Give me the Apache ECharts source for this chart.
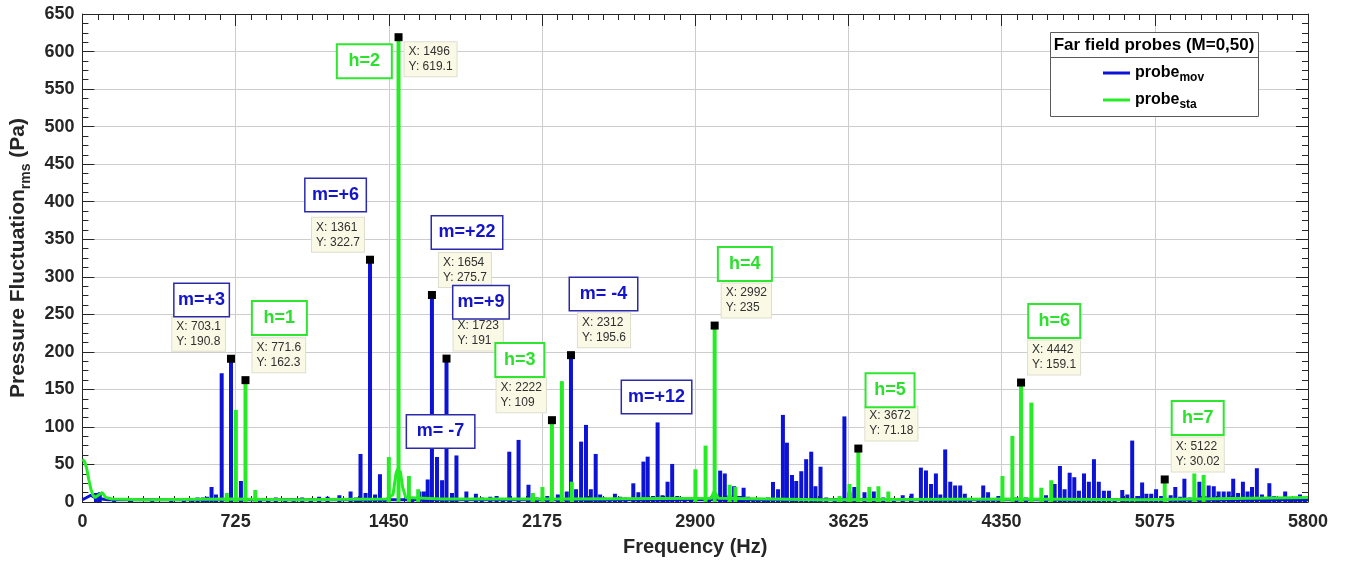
<!DOCTYPE html>
<html>
<head>
<meta charset="utf-8">
<title>Far field probes</title>
<script src="https://cdn.jsdelivr.net/npm/echarts@6/dist/echarts.min.js"></script>
<style>
html, body { margin: 0; padding: 0; background: #fff; }
#main { width: 1347px; height: 565px; }
</style>
</head>
<body>
<div id="main"></div>
<script>
// spectrum of the moving probe: [frequency Hz, amplitude Pa]
var movPeaks = [
    [64, 12], [82, 13], [150, 4], [230, 3], [330, 3], [420, 4], [480, 5], [520, 5], [545, 6], [570, 6],
    [590, 7], [611, 20], [632, 10], [659, 171.6], [703.1, 190.8], [750, 28], [840, 4], [880, 5], [915, 6],
    [960, 5], [1000, 4], [1040, 6], [1080, 5], [1120, 7], [1160, 7], [1216, 9], [1269, 14], [1295, 6],
    [1316, 64], [1340, 12], [1361, 322.7], [1385, 10], [1408, 37], [1430, 5], [1560, 5], [1595, 14],
    [1616, 14], [1634, 30], [1654, 275.7], [1678, 60], [1702, 29], [1723, 191], [1749, 12], [1770, 62],
    [1817, 14], [1862, 11], [1890, 6], [1930, 7], [1960, 8], [1990, 5], [2020, 67], [2064, 82.7],
    [2111, 23], [2150, 6], [2200, 8], [2250, 10], [2292, 14], [2312, 195.6], [2336, 17], [2360, 80.4],
    [2383, 102.7], [2406, 17], [2429, 64], [2450, 10], [2470, 6], [2495, 5], [2520, 11], [2545, 7],
    [2570, 6], [2607, 24.9], [2631, 13], [2655, 53.8], [2675, 60.4], [2700, 8], [2722, 106], [2745, 9],
    [2769, 27], [2791, 50.7], [2815, 8], [2850, 5], [2880, 6], [2960, 5], [3018, 41.8], [3040, 38],
    [3062, 9], [3084, 21], [3107, 8], [3129, 19], [3150, 7], [3175, 5], [3200, 5], [3225, 4], [3245, 6],
    [3268, 26.7], [3292, 17], [3315, 116], [3334, 79], [3358, 36], [3378, 28], [3402, 41], [3425, 57],
    [3449, 67], [3469, 21], [3493, 47], [3520, 6], [3560, 5], [3606, 114], [3630, 13], [3653, 20],
    [3701, 13], [3745, 14], [3790, 6], [3840, 5], [3882, 9], [3924, 11], [3968, 45.8], [3992, 42],
    [4016, 24], [4039, 38], [4060, 10], [4083, 70], [4107, 27], [4130, 22], [4154, 22], [4176, 11],
    [4200, 5], [4240, 4], [4263, 22], [4286, 13], [4310, 5], [4335, 8], [4420, 6], [4465, 6], [4560, 9],
    [4601, 24], [4626, 48], [4648, 17], [4672, 39], [4694, 33], [4716, 15], [4740, 38], [4763, 27],
    [4787, 57], [4810, 27], [4834, 15], [4858, 15], [4885, 5], [4921, 16], [4945, 10], [4968, 81.8],
    [4992, 8], [5015, 26], [5035, 11], [5058, 11], [5081, 17], [5105, 8], [5150, 9], [5172, 20],
    [5195, 7], [5215, 31], [5240, 6], [5286, 27], [5310, 8], [5330, 22], [5354, 21], [5377, 14],
    [5401, 14], [5425, 14], [5446, 31], [5469, 12], [5492, 27], [5514, 14], [5535, 20], [5558, 45],
    [5582, 10], [5600, 6], [5617, 25], [5640, 8], [5665, 6], [5692, 14], [5715, 5], [5740, 6],
    [5762, 10], [5785, 5]
];
var movFloor = [[0, 3], [40, 9], [64, 5], [120, 3], [5800, 3]];

// spectrum of the stationary probe
var staPeaks = [
    [683, 12], [726, 122.7], [771.6, 162.3], [818, 16], [1450, 60], [1496, 619.1], [1545, 34.7],
    [1589, 17], [2132, 12], [2177, 20], [2222, 109], [2269, 161], [2316, 27], [2901, 43.6],
    [2949, 75.1], [2992, 235], [3063, 23], [3090, 20], [3583, 8], [3630, 24], [3672, 71.18],
    [3724, 20], [3767, 21], [3814, 14], [4354, 34.7], [4401, 88], [4442, 159.1], [4491, 132.4],
    [4538, 19], [4585, 29], [5122, 30.02], [5262, 38], [5306, 36]
];
var staFloor = [
    [0, 57], [10, 54], [20, 45], [30, 30], [40, 17], [50, 9], [60, 6], [75, 9], [94, 12.5], [110, 6],
    [140, 4], [300, 3], [700, 4], [1000, 3], [1440, 4], [1470, 10], [1484, 38], [1492, 44], [1505, 40],
    [1515, 20], [1530, 6], [1700, 4], [2300, 4], [2975, 5], [2990, 14], [3010, 5], [3500, 3],
    [4440, 4], [5000, 3], [5800, 6]
];

// data cursors
var tipFreq = [703.1, 771.6, 1361, 1496, 1654, 1723, 2222, 2312, 2992, 3672, 4442, 5122];
var tipAmp = [190.8, 162.3, 322.7, 619.1, 275.7, 191, 109, 195.6, 235, 71.18, 159.1, 30.02];
var tipSide = ['NW', 'NE', 'NW', 'SE', 'NE', 'NE', 'NW', 'NE', 'NE', 'NE', 'NE', 'NE'];

// mode / harmonic text boxes
var noteText = ['m=+3', 'h=1', 'm=+6', 'h=2', 'm=+22', 'm=+9', 'm= -7', 'h=3', 'm= -4', 'm=+12', 'h=4', 'h=5', 'h=6', 'h=7'];
var noteFreq = [564, 932, 1198, 1334, 1820, 1886, 1695, 2070, 2466, 2717, 3135, 3822, 4599, 5278];
var noteAmp = [269, 245, 409, 587, 359, 266, 94, 189, 277, 140, 317, 149, 241, 112];
var noteWidth = [57, 56, 63, 56, 73, 58, 70, 50, 70, 72, 55, 50, 53, 53];

var BLUE = '#0c12d6';
var GREEN = '#26ec26';
var FONT = '"Liberation Sans", Arial, sans-serif';
var AXIS = '#262626';

var myChart = echarts.init(document.getElementById('main'));

var tipPlace = {
    NE: { align: 'left', verticalAlign: 'bottom', offset: [7, -8] },
    NW: { align: 'right', verticalAlign: 'bottom', offset: [-6, -8] },
    SE: { align: 'left', verticalAlign: 'top', offset: [6, 5] }
};

var tipData = tipFreq.map(function (f, i) {
    var p = tipPlace[tipSide[i]];
    return {
        value: [f, tipAmp[i]],
        label: { align: p.align, verticalAlign: p.verticalAlign, offset: p.offset }
    };
});

var noteData = noteText.map(function (t, i) {
    var isM = t.charAt(0) === 'm';
    return {
        value: [noteFreq[i], noteAmp[i]],
        label: {
            formatter: t,
            width: noteWidth[i] - 3,
            color: isM ? '#1414c8' : '#2ee02e',
            borderColor: isM ? '#2a2aaa' : '#2ee62e',
            borderWidth: isM ? 1.5 : 2
        }
    };
});

function axisTicks() {
    return { show: true, inside: true, length: 12, lineStyle: { color: AXIS, width: 1 } };
}

option = {
    backgroundColor: '#fff',
    animation: false,
    grid: { left: 79.5, right: 39, top: 14, bottom: 63 },
    legend: {
        orient: 'vertical',
        left: 1098,
        top: 60,
        itemWidth: 27,
        itemHeight: 3,
        itemGap: 8,
        icon: 'rect',
        z: 20,
        data: ['probe_mov', 'probe_sta'],
        formatter: function (name) {
            return '{a|probe}{s|' + name.split('_')[1] + '}';
        },
        textStyle: {
            rich: {
                a: { fontFamily: FONT, fontSize: 16, fontWeight: 'bold', color: '#000', lineHeight: 22 },
                s: { fontFamily: FONT, fontSize: 12, fontWeight: 'bold', color: '#000', lineHeight: 22,
                     verticalAlign: 'bottom', padding: [6, 0, 0, 0] }
            }
        }
    },
    graphic: [
        { type: 'rect', z: 10, shape: { x: 1050.5, y: 32.5, width: 208, height: 84 },
          style: { fill: '#fff', stroke: '#5a5a5a', lineWidth: 1 } },
        { type: 'line', z: 11, shape: { x1: 1050.5, y1: 57.5, x2: 1258.5, y2: 57.5 },
          style: { stroke: '#5a5a5a', lineWidth: 1 } },
        { type: 'text', z: 11, x: 1154, y: 45,
          style: { text: 'Far field probes (M=0,50)', fontFamily: FONT, fontSize: 17, fontWeight: 'bold',
                   fill: '#000', align: 'center', verticalAlign: 'middle' } }
    ],
    xAxis: [{
        type: 'value', min: 0, max: 5800, interval: 725, position: 'bottom',
        name: 'Frequency (Hz)', nameLocation: 'middle', nameGap: 35,
        nameTextStyle: { fontFamily: FONT, fontSize: 20, fontWeight: 'bold', color: AXIS },
        axisLine: { show: true, onZero: false, lineStyle: { color: AXIS, width: 1 } },
        axisTick: axisTicks(),
        minorTick: { show: true, splitNumber: 10, length: 6, lineStyle: { color: AXIS } },
        splitLine: { show: true, lineStyle: { color: '#cdcdcd', width: 1 } },
        axisLabel: { fontFamily: FONT, fontSize: 18, fontWeight: 'bold', color: AXIS, margin: 11,
                     formatter: function (v) { return String(v); } }
    }, {
        type: 'value', min: 0, max: 5800, interval: 725, position: 'top',
        axisLine: { show: true, onZero: false, lineStyle: { color: AXIS, width: 1 } },
        axisTick: axisTicks(),
        minorTick: { show: true, splitNumber: 10, length: 6, lineStyle: { color: AXIS } },
        splitLine: { show: false },
        axisLabel: { show: false }
    }],
    yAxis: [{
        type: 'value', min: 0, max: 650, interval: 50, position: 'left',
        name: '{a|Pressure Fluctuation}{s|rms}{a| (Pa)}',
        nameLocation: 'middle', nameRotate: 90, nameGap: 45,
        nameTextStyle: {
            rich: {
                a: { fontFamily: FONT, fontSize: 21, fontWeight: 'bold', color: AXIS, lineHeight: 30 },
                s: { fontFamily: FONT, fontSize: 14, fontWeight: 'bold', color: AXIS, lineHeight: 30, verticalAlign: 'bottom' }
            }
        },
        axisLine: { show: true, onZero: false, lineStyle: { color: AXIS, width: 1 } },
        axisTick: axisTicks(),
        minorTick: { show: true, splitNumber: 4, length: 6, lineStyle: { color: AXIS } },
        splitLine: { show: true, lineStyle: { color: '#cdcdcd', width: 1 } },
        axisLabel: { fontFamily: FONT, fontSize: 18, fontWeight: 'bold', color: AXIS, margin: 8 }
    }, {
        type: 'value', min: 0, max: 650, interval: 50, position: 'right',
        axisLine: { show: true, onZero: false, lineStyle: { color: AXIS, width: 1 } },
        axisTick: axisTicks(),
        minorTick: { show: true, splitNumber: 4, length: 6, lineStyle: { color: AXIS } },
        splitLine: { show: false },
        axisLabel: { show: false }
    }],
    series: [{
        name: 'probe_mov', type: 'bar', data: movPeaks,
        barWidth: 4, barGap: '-100%', z: 2, silent: true,
        itemStyle: { color: BLUE }
    }, {
        name: 'probe_mov', type: 'line', data: movFloor, symbol: 'none', z: 2, silent: true,
        lineStyle: { color: BLUE, width: 3 }, itemStyle: { color: BLUE }
    }, {
        name: 'probe_sta', type: 'bar', data: staPeaks,
        barWidth: 4, barGap: '-100%', z: 3, silent: true,
        itemStyle: { color: GREEN }
    }, {
        name: 'probe_sta', type: 'line', data: staFloor, symbol: 'none', z: 3, silent: true,
        lineStyle: { color: GREEN, width: 3 }, itemStyle: { color: GREEN }
    }, {
        // data cursor squares and their X/Y boxes
        type: 'scatter', data: tipData, symbol: 'rect', symbolSize: 8, z: 5, silent: true, clip: false,
        itemStyle: { color: '#000', opacity: 1 },
        label: {
            show: true, position: 'inside',
            formatter: function (p) { return '{t|X: ' + p.value[0] + '}\n{t|Y: ' + p.value[1] + '}'; },
            backgroundColor: '#f9f9e6', borderColor: '#dedecf', borderWidth: 1,
            padding: [2, 4, 2, 4], textBorderWidth: 0,
            rich: {
                t: { fontFamily: FONT, fontSize: 12, lineHeight: 15, color: '#303030', align: 'left' }
            }
        }
    }, {
        // m / h text boxes
        type: 'scatter', data: noteData, symbol: 'circle', symbolSize: 1, z: 6, silent: true, clip: false,
        itemStyle: { color: 'transparent', opacity: 1 },
        label: {
            show: true, position: 'inside', align: 'center', verticalAlign: 'middle',
            fontFamily: FONT, fontSize: 18, fontWeight: 'bold', lineHeight: 20, textBorderWidth: 0,
            backgroundColor: '#fff', padding: [6, 0, 6, 0]
        }
    }]
};

myChart.setOption(option);
</script>
</body>
</html>
